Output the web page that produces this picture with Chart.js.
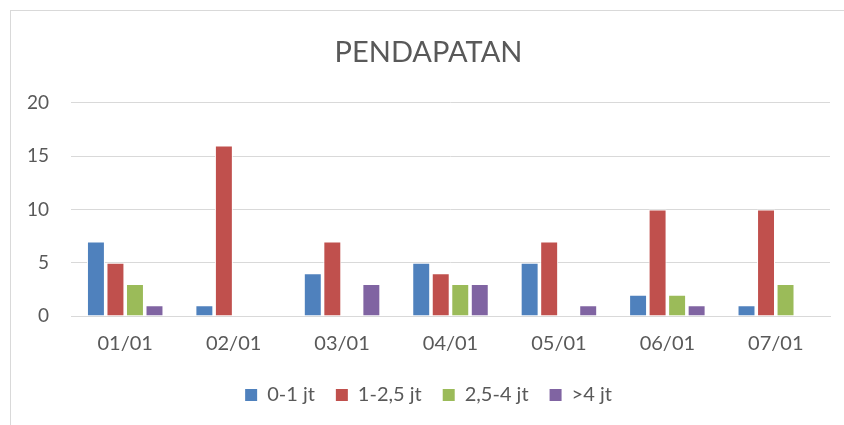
<!DOCTYPE html>
<html>
<head>
<meta charset="utf-8">
<script src="https://cdn.jsdelivr.net/npm/chart.js@4/dist/chart.umd.min.js"></script>
<style>
  html, body { margin: 0; padding: 0; background: #fff; }
  #frame { position: absolute; left: 10px; top: 10px; width: 850px; height: 430px; border: 1px solid #d9d9d9; box-sizing: border-box; }
  #wrap { position: absolute; left: 0; top: 0; width: 844px; height: 425px; }
</style>
</head>
<body>
<div id="frame"></div>
<div id="wrap"><canvas id="chart"></canvas></div>
<script>
const labels = ['01/01', '02/01', '03/01', '04/01', '05/01', '06/01', '07/01'];
const seriesNames = ['0-1 jt', '1-2,5 jt', '2,5-4 jt', '>4 jt'];
const low = [7, 1, 4, 5, 5, 2, 1];
const midLow = [5, 16, 7, 4, 7, 10, 10];
const midHigh = [3, 0, 0, 3, 0, 2, 3];
const high = [1, 0, 3, 3, 1, 1, 0];
const colors = ['#4f81bd', '#c0504d', '#9bbb59', '#8064a2'];
const yTicks = [0, 5, 10, 15, 20];

const values = [low, midLow, midHigh, high];
const datasets = values.map((data, i) => ({
  label: seriesNames[i],
  data: data,
  backgroundColor: colors[i],
  borderColor: '#ffffff',
  borderWidth: 1,
  borderSkipped: 'bottom',
  barPercentage: 0.92,
  categoryPercentage: 0.72,
}));

const textColor = '#595959';
const font = 'Lato, "Open Sans", sans-serif';

new Chart(document.getElementById('chart').getContext('2d'), {
  type: 'bar',
  data: { labels: labels, datasets: datasets },
  options: {
    responsive: true,
    maintainAspectRatio: false,
    animation: false,
    layout: { padding: { left: 27, right: 14, top: 35, bottom: 10 } },
    scales: {
      x: {
        grid: { display: false, drawTicks: false },
        border: { color: '#d9d9d9', width: 1 },
        ticks: { color: textColor, font: { family: font, size: 20 }, padding: 16 },
        afterFit: (scale) => { scale.height -= 8; },
      },
      y: {
        min: 0,
        max: 20,
        afterBuildTicks: (axis) => { axis.ticks = yTicks.map(v => ({ value: v })); },
        afterFit: (scale) => { scale.width = 44; },
        grid: { color: '#d9d9d9', lineWidth: 1, drawTicks: false },
        border: { display: false },
        ticks: { color: textColor, font: { family: font, size: 19 }, padding: 22 },
      },
    },
    plugins: {
      title: {
        display: true,
        text: 'PENDAPATAN',
        color: textColor,
        font: { family: font, size: 29, weight: 'normal' },
        padding: { top: 0, bottom: 33 },
      },
      legend: {
        position: 'bottom',
        labels: {
          color: textColor,
          font: { family: font, size: 20 },
          boxWidth: 12,
          boxHeight: 12,
          padding: 21,
          generateLabels: (chart) => chart.data.datasets.map((ds, i) => ({
            text: ds.label,
            fillStyle: ds.backgroundColor,
            strokeStyle: ds.backgroundColor,
            lineWidth: 0,
            fontColor: textColor,
            datasetIndex: i,
          })),
        },
      },
      tooltip: { enabled: false },
    },
  },
});
</script>
</body>
</html>
